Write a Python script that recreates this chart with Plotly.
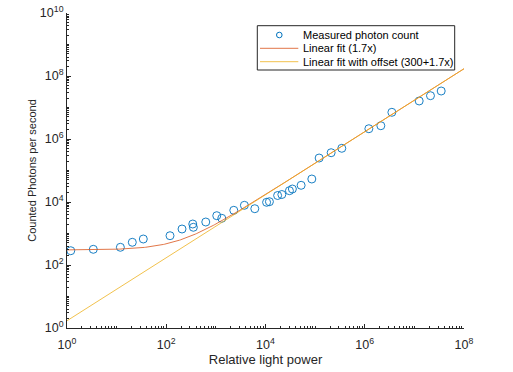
import numpy as np
import plotly.graph_objects as go

light_power = [1.19, 3.39, 11.9, 20.7, 34.5, 119, 208, 342, 352, 626, 1042, 1315,
               2296, 3755, 6087, 10520, 11990, 17540, 21330, 30360, 34840, 52200,
               85800, 120500, 210300, 345000, 1.21e6, 2.11e6, 3.52e6, 1.25e7, 2.11e7, 3.47e7]
photon_count = [284, 315, 365, 526, 669, 851, 1389, 2003, 1574, 2317, 3673, 3038,
                5452, 7857, 6124, 9780, 10230, 16070, 17300, 22840, 25860, 33890,
                53700, 249000, 367000, 507000, 2.12e6, 2.64e6, 7.04e6, 1.61e7, 2.37e7, 3.34e7]

# Fit parameters (from legend)
offset = 300
slope = 1.7

series_names = ["Measured photon count", "Linear fit (1.7x)", "Linear fit with offset (300+1.7x)"]
series_colors = ["#0072BD", "#D95319", "#EDB120"]

x_tickvals = [1, 1e2, 1e4, 1e6, 1e8]
x_ticktext = ["10<sup>0</sup>", "10<sup>2</sup>", "10<sup>4</sup>", "10<sup>6</sup>", "10<sup>8</sup>"]
y_tickvals = [1, 1e2, 1e4, 1e6, 1e8, 1e10]
y_ticktext = ["10<sup>0</sup>", "10<sup>2</sup>", "10<sup>4</sup>", "10<sup>6</sup>", "10<sup>8</sup>", "10<sup>10</sup>"]

fit_x = np.logspace(0, 8, 400)
fit_offset = offset + slope * fit_x
fit_linear = slope * fit_x


def minor_vals(lo, hi):
    vals = []
    for e in range(lo, hi):
        for m in range(1, 10):
            if m == 1 and e % 2 == 0:
                continue
            vals.append(m * 10.0 ** e)
    return vals


FONT = "Liberation Sans, Arial, sans-serif"
INK = "#262626"

fig = go.Figure()
fig.add_trace(go.Scatter(
    x=light_power, y=photon_count, mode="markers", name=series_names[0],
    marker=dict(symbol="circle-open", size=8, color=series_colors[0],
                line=dict(width=0.9, color=series_colors[0])),
))
fig.add_trace(go.Scatter(
    x=fit_x, y=fit_offset, mode="lines", name=series_names[1],
    line=dict(color=series_colors[1], width=0.8),
))
fig.add_trace(go.Scatter(
    x=fit_x, y=fit_linear, mode="lines", name=series_names[2],
    line=dict(color=series_colors[2], width=0.8),
))

axis_common = dict(
    type="log", showgrid=False, zeroline=False, showline=True, linecolor=INK,
    linewidth=1, ticks="inside", ticklen=4, tickcolor=INK, tickmode="array",
    tickfont=dict(family=FONT, size=12.5, color=INK),
    mirror=False, automargin=False,
)

fig.update_xaxes(
    **axis_common, range=[0, 8], tickvals=x_tickvals, ticktext=x_ticktext,
    ticklabelstandoff=5,
    minor=dict(ticks="inside", ticklen=2, tickcolor=INK, tickmode="array", tickvals=minor_vals(0, 8)),
    title=dict(text="Relative light power", font=dict(family=FONT, size=13, color=INK), standoff=3),
)
fig.update_yaxes(
    **axis_common, range=[0, 10], tickvals=y_tickvals, ticktext=y_ticktext,
    minor=dict(ticks="inside", ticklen=2, tickcolor=INK, tickmode="array", tickvals=minor_vals(0, 10)),
    title=dict(text="Counted Photons per second", font=dict(family=FONT, size=11, color=INK), standoff=1),
)

# Compact legend (MATLAB-style) built from shapes + annotations in paper coordinates
PLOT_L, PLOT_W, PLOT_B, PLOT_H = 67, 397, 328, 315


def px_x(px):
    return (px - PLOT_L) / PLOT_W


def px_y(py):
    return (PLOT_B - py) / PLOT_H


shapes = [dict(type="rect", xref="paper", yref="paper",
               x0=px_x(257.3), x1=px_x(454.7), y0=px_y(70), y1=px_y(25.7),
               line=dict(color=INK, width=1), fillcolor="white", layer="above")]
annotations = []
row_y = [35, 48.3, 61.7]
for i, name in enumerate(series_names):
    yy = px_y(row_y[i])
    if i == 0:
        shapes.append(dict(type="circle", xref="paper", yref="paper",
                           x0=px_x(279.3 - 2.8), x1=px_x(279.3 + 2.8),
                           y0=yy - 2.8 / PLOT_H, y1=yy + 2.8 / PLOT_H,
                           line=dict(color=series_colors[0], width=1), layer="above"))
    else:
        shapes.append(dict(type="line", xref="paper", yref="paper",
                           x0=px_x(260), x1=px_x(298.3), y0=yy, y1=yy,
                           line=dict(color=series_colors[i], width=0.8), layer="above"))
    annotations.append(dict(text=name, xref="paper", yref="paper", x=px_x(300.5), y=yy,
                            xanchor="left", yanchor="middle", showarrow=False,
                            font=dict(family=FONT, size=11, color="black")))

fig.update_layout(
    width=513, height=372, autosize=False,
    margin=dict(l=67, r=49, t=13, b=44, autoexpand=False),
    paper_bgcolor="white", plot_bgcolor="white",
    showlegend=False,
    shapes=shapes, annotations=annotations,
)

fig.write_html("out.html", config={"displayModeBar": False},
               post_script="document.body.style.margin='0';")
